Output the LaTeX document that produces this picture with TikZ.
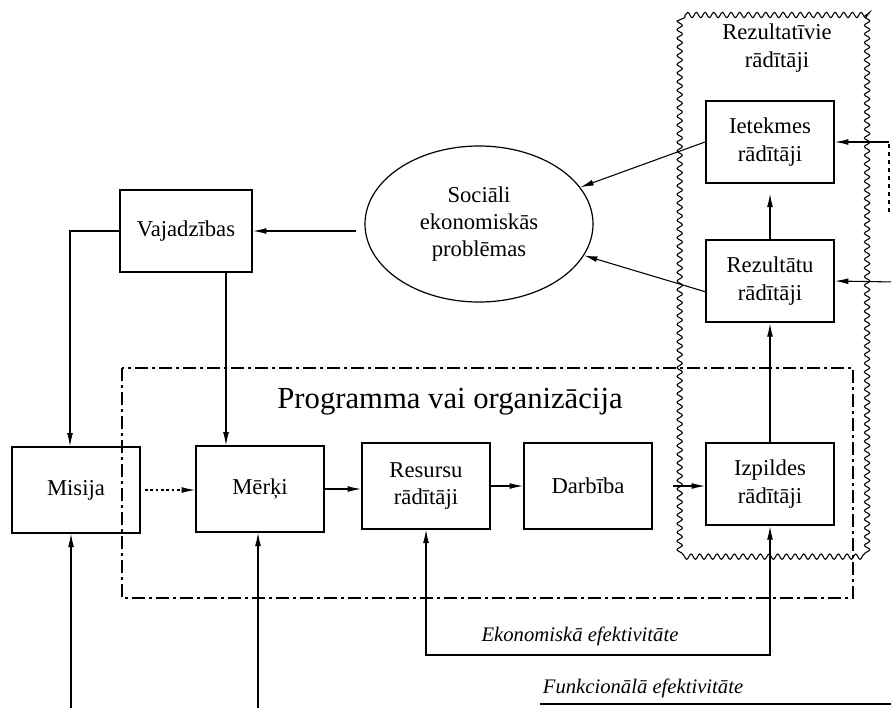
\documentclass[tikz,border=0pt]{standalone}
\usepackage{fontspec}
\setmainfont{Liberation Serif}
\usetikzlibrary{arrows.meta,shapes.geometric,decorations.pathmorphing,calc}
\begin{document}
\begin{tikzpicture}[x=0.75pt,y=-0.75pt,
  box/.style={draw,line width=1.5pt,minimum width=96pt,minimum height=64pt,
    inner sep=0pt,align=center,font=\fontsize{17}{20.5}\selectfont},
  lbl/.style={align=center,font=\fontsize{17}{20.5}\selectfont},
  ital/.style={font=\itshape\fontsize{15.5}{18}\selectfont},
  conn/.style={line width=0.8pt},
  tip/.tip={Latex[length=10pt,width=4.4pt]},
  arr/.style={conn,-tip},
  biarr/.style={conn,tip-tip},
  frame/.style={line width=1.3pt,dash pattern=on 10pt off 3pt on 2pt off 3pt},
  wavy/.style={line width=0.8pt,decorate,
    decoration={snake,amplitude=2pt,segment length=6.5pt}}]
\useasboundingbox (0,0) rectangle (891,707);
\fill[white] (0,0) rectangle (891,707);

% program / organisation frame
\draw[frame] (122,368) rectangle (853,598);
% outcome indicators frame
\draw[wavy] (685,15) -- (868,15) -- (868,555) -- (685,555) -- cycle;

% nodes
\node[box] (mis) at (76,490) {Misija};
\node[box] (mer) at (260,489) {Mērķi};
\node[box] (res) at (426,486) {Resursu\\rādītāji};
\node[box] (dar) at (588,486) {Darbība};
\node[box,minimum height=62pt] (izp) at (770,484) {Izpildes\\rādītāji};
\node[box,minimum height=62pt] (rez) at (770,281) {Rezultātu\\rādītāji};
\node[box,minimum height=62pt] (iet) at (770,142) {Ietekmes\\rādītāji};
\node[box,minimum width=99pt,minimum height=61.5pt] (vaj) at (186,231) {Vajadzības};
\node[ellipse,draw,line width=0.9pt,minimum width=171pt,minimum height=117pt,
  inner sep=0pt,lbl] (ell) at (479,224) {Sociāli\\ekonomiskās\\problēmas};
\node[lbl] (rtit) at (777,48) {Rezultatīvie\\rādītāji};
\node[font=\fontsize{23}{27}\selectfont] (prog) at (450,402) {Programma vai organizācija};
\node[ital] (eko) at (580,636) {Ekonomiskā efektivitāte};
\node[ital] (fun) at (643,688) {Funkcionālā efektivitāte};

% connectors
\draw[arr] ([xshift=-6pt]ell.west |- vaj.east) -- (vaj.east);
\draw[arr] (vaj.west) -| ([xshift=-4.5pt]mis.north);
\draw[arr] ([xshift=30pt]vaj.south) -- ([xshift=30pt]vaj.south |- mer.north);
\draw[arr,dash pattern=on 2pt off 2pt] ([xshift=3pt]mis.east) -- (mis.east -| mer.west);
\draw[arr] (mer.east) -- (mer.east -| res.west);
\draw[arr] (res.east) -- (res.east -| dar.west);
\draw[arr,shorten <=15pt] (dar.east) -- (dar.east -| izp.west);
\draw[arr] (izp.north) -- (rez.south);
\draw[arr,shorten >=7pt] (rez.north) -- (iet.south);
\draw[arr] (iet.west) -- (ell);
\draw[arr] ([yshift=-8pt]rez.west) -- (ell);

% inputs entering from the right
\coordinate (rin1) at (889,142);
\coordinate (rin1b) at (889,212);
\coordinate (rin2) at (895,282);
\draw[conn,dashed] (rin1b) -- (rin1);
\draw[arr] (rin1) -- (iet.east);
\draw[arr] (rin2) -- (rez.east);

% functional efficiency
\coordinate (mb) at (71,712);
\coordinate (mrb) at (258,712);
\coordinate (fl) at (540,704);
\coordinate (fr) at (895,704);
\draw[arr] (mb) -- (mb |- mis.south);
\draw[arr] (mrb) -- (mrb |- mer.south);
\draw[conn] (fl) -- (fr);

% economic efficiency
\coordinate (eb) at (600,655);
\draw[biarr] (res.south) |- (eb) -| (izp.south);
\end{tikzpicture}
\end{document}
